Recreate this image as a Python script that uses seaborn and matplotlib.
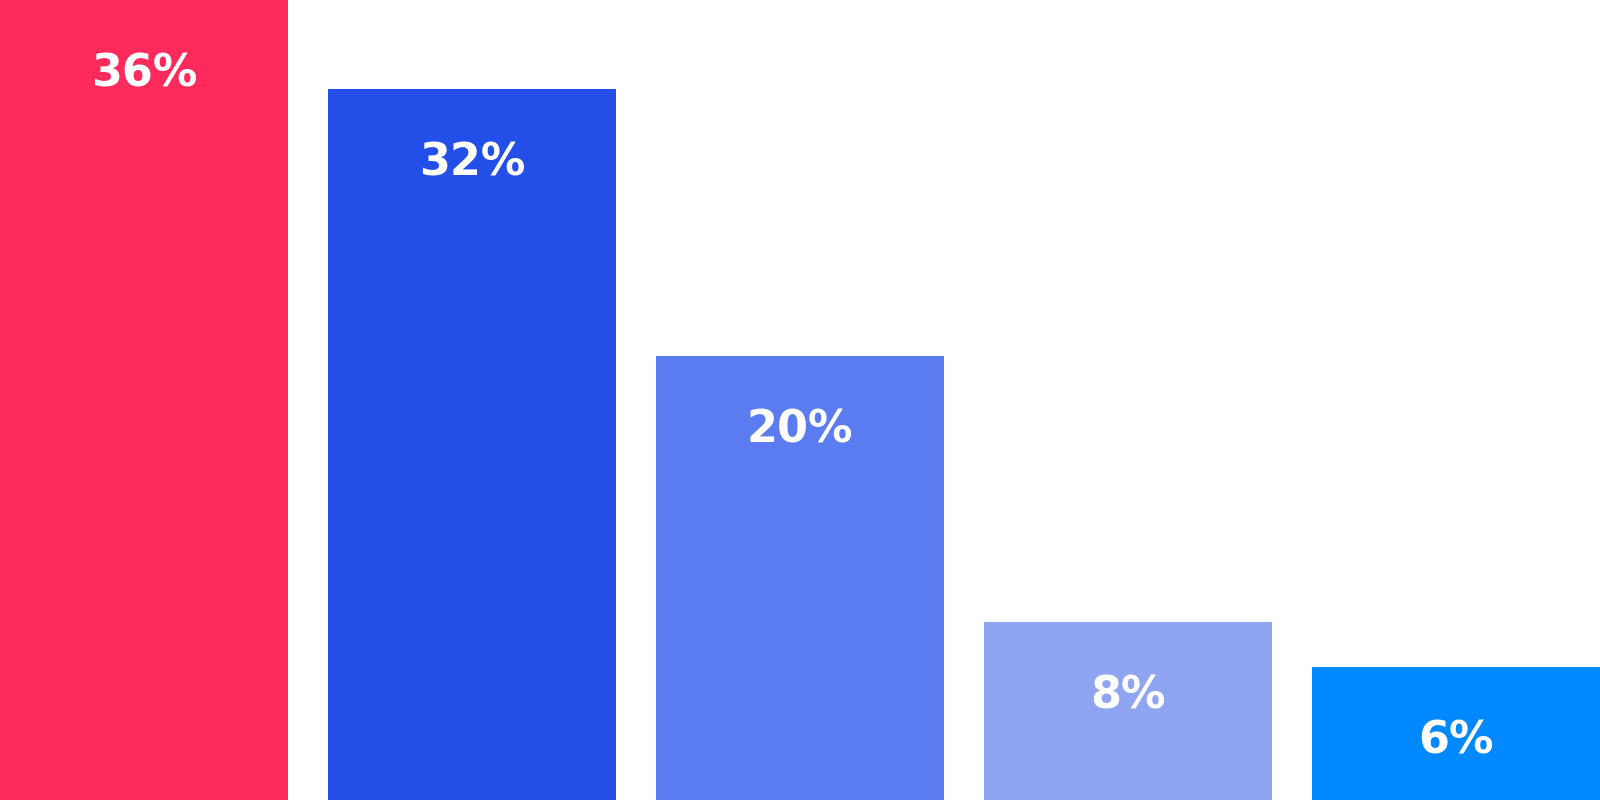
import pandas as pd
import matplotlib
matplotlib.use("Agg")
import matplotlib.pyplot as plt
import seaborn as sns

# chart data
categories = ["A", "B", "C", "D", "E"]
values = [36, 32, 20, 8, 6]
colors = ["#FF2A5C", "#234FE8", "#5B7BF0", "#90A5F2", "#0088FF"]

df = pd.DataFrame({"category": categories, "value": values})

sns.set_theme(style="white")
plt.rcParams["font.family"] = ["DejaVu Sans"]

fig = plt.figure(figsize=(16, 8), dpi=100)
ax = fig.add_axes([0, 0, 1, 1])

bar_width = 288 / 328
sns.barplot(data=df, x="category", y="value", hue="category",
            palette=colors, width=bar_width, saturation=1,
            linewidth=0, edgecolor="none", legend=False, ax=ax)

ax.set_xlim(-bar_width / 2, len(categories) - 1 + bar_width / 2)
ax.set_ylim(0, max(values))
ax.axis("off")

# value labels just below each bar top
for i, v in enumerate(values):
    ax.annotate(f"{v}%", xy=(i, v), xytext=(0, -74),
                textcoords="offset pixels", ha="center", va="center",
                color="white", fontsize=32, fontweight="bold")

fig.savefig("out.png", dpi=100, facecolor="white")
